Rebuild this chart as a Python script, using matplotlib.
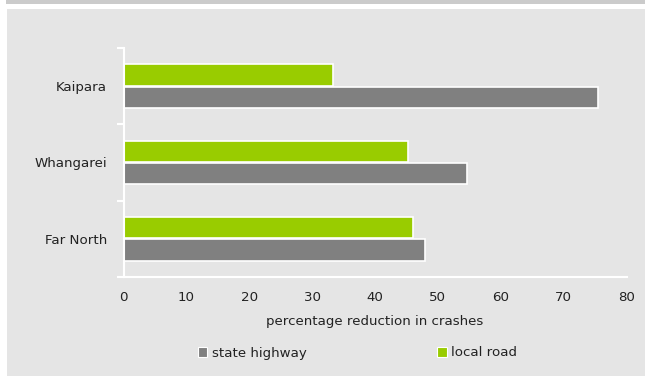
import matplotlib.pyplot as plt
from matplotlib.patches import Patch, Rectangle

# data, bottom to top
districts = ['Far North', 'Whangarei', 'Kaipara']
state_highway = [48.0, 54.6, 75.4]
local_road = [46.0, 45.2, 33.3]
x_ticks = [0, 10, 20, 30, 40, 50, 60, 70, 80]

grey = '#808080'
green = '#99cc00'
bg = '#e5e5e5'
txt = '#222222'
fs = 9.6

W, H = 645, 376
fig = plt.figure(figsize=(W / 100, H / 100), dpi=100)
fig.patch.set_facecolor('white')

# panel background and top band
fig.add_artist(Rectangle((7 / W, 0), 1, 1 - 9 / H, transform=fig.transFigure,
                         facecolor=bg, edgecolor='none', zorder=-2))
fig.add_artist(Rectangle((6 / W, 1 - 4 / H), 1, 4 / H, transform=fig.transFigure,
                         facecolor='#cbcbcb', edgecolor='none', zorder=-2))

ax = fig.add_axes([123.5 / W, 1 - 277 / H, (626.5 - 123.5) / W, (277 - 48) / H])
ax.set_facecolor(bg)

pos = list(range(len(districts)))
h = 0.28
off = 0.145
ax.barh([p - off for p in pos], state_highway, height=h, color=grey,
        edgecolor='white', linewidth=1.2, label='state highway')
ax.barh([p + off for p in pos], local_road, height=h, color=green,
        edgecolor='white', linewidth=1.2, label='local road')

ax.set_xlim(0, 80)
ax.set_ylim(-0.5, len(districts) - 0.5)
ax.set_xticks(x_ticks)
ax.set_xticklabels([str(t) for t in x_ticks], fontsize=fs, color=txt)
ax.tick_params(axis='x', length=0, pad=10)

# category boundary ticks, labels in the middle
ax.set_yticks([p - 0.5 for p in range(len(districts) + 1)])
ax.set_yticklabels([])
ax.set_yticks(pos, minor=True)
ax.set_yticklabels(districts, minor=True, fontsize=fs, color=txt)
ax.tick_params(axis='y', which='major', length=5, width=1.5, color='white')
ax.tick_params(axis='y', which='minor', length=0, pad=12)

for s in ['top', 'right']:
    ax.spines[s].set_visible(False)
for s in ['left', 'bottom']:
    ax.spines[s].set_color('white')
    ax.spines[s].set_linewidth(1.5)

ax.set_xlabel('percentage reduction in crashes', fontsize=fs, color=txt, labelpad=8)

handles = [Patch(facecolor=grey, edgecolor='white', linewidth=0.8, label='state highway'),
           Patch(facecolor=green, edgecolor='white', linewidth=0.8, label='local road')]
fig.legend(handles=handles, loc='center left', bbox_to_anchor=(198 / W, 1 - 353 / H),
           ncol=2, frameon=False, fontsize=fs, handlelength=0.7, handleheight=0.7,
           handletextpad=0.35, columnspacing=9.8, borderpad=0, borderaxespad=0,
           labelcolor=txt)

fig.savefig('out.png', dpi=100, facecolor='white')
